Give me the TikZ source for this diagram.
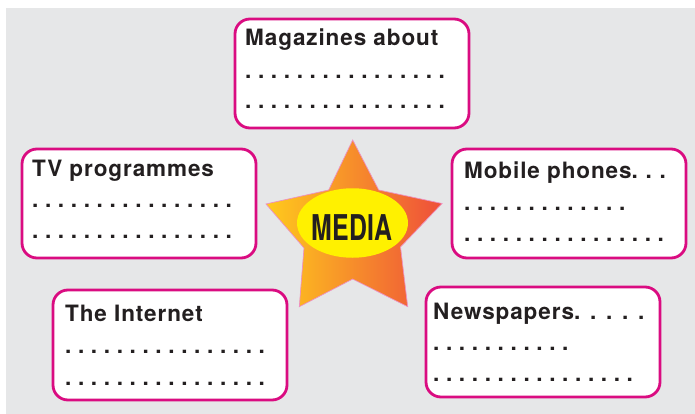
\documentclass[tikz,border=0pt]{standalone}
\usepackage{fontspec}
\usetikzlibrary{shapes.geometric}
\setmainfont{TeX Gyre Heros}[LetterSpace=4]
\newfontfamily\mediafont{TeX Gyre Heros}
\definecolor{bg}{HTML}{E6E7E8}
\definecolor{mag}{HTML}{DA0C81}
\definecolor{starL}{HTML}{FFCB1C}
\definecolor{starR}{HTML}{EE4E3A}
\definecolor{starEdge}{HTML}{EE90C0}
\definecolor{ell}{HTML}{FFF100}
\definecolor{txt}{HTML}{231F20}
\newcommand\dd{\makebox[12.9pt][l]{.}}
\newcommand\dotsrow[1]{\foreach \k in {1,...,#1}{\dd}}
\tikzset{
  box/.style={draw=mag, fill=white, line width=2.8pt, rounded corners=15pt,
    minimum width=234pt, minimum height=109pt, inner sep=0pt},
  lbl/.style={anchor=base west, inner sep=0pt, text=txt, font=\fontsize{22.5}{26}\selectfont\bfseries},
}
\begin{document}
\begin{tikzpicture}[x=1pt,y=-1pt]
\useasboundingbox (0,0) rectangle (695,414);
\fill[bg] (6,8) rectangle (695,414);
% boxes
\node[box] (bmag) at (352,73.5) {};
\node[box] (btv) at (139,203.5) {};
\node[box] (bmob) at (569,203.5) {};
\node[box, minimum height=110pt] (bint) at (170,345) {};
\node[box, minimum height=110pt] (bnew) at (543,342) {};
% texts
\node[lbl] (tmag) at (245,46) {Magazines about};
\node[lbl] (dmag1) at (245,79) {\dotsrow{16}};
\node[lbl] (dmag2) at (245,109) {\dotsrow{16}};
\node[lbl] (ttv) at (32,176) {TV programmes};
\node[lbl] (dtv1) at (32,207.5) {\dotsrow{16}};
\node[lbl] (dtv2) at (32,238) {\dotsrow{16}};
\node[lbl] (tmob) at (464,178.5) {Mobile phones\makebox[14pt][l]{.}\makebox[14pt][l]{.}.};
\node[lbl] (dmob1) at (464,210.5) {\dotsrow{13}};
\node[lbl] (dmob2) at (464,241.5) {\dotsrow{16}};
\node[lbl] (tint) at (65,321) {The Internet};
\node[lbl] (dint1) at (65,353) {\dotsrow{16}};
\node[lbl] (dint2) at (65,385.5) {\dotsrow{16}};
\node[lbl] (tnew) at (433,319.5) {Newspapers\makebox[16pt][l]{.}\makebox[16pt][l]{.}\makebox[16pt][l]{.}\makebox[16pt][l]{.}.};
\node[lbl] (dnew1) at (433,350.5) {\dotsrow{11}};
\node[lbl] (dnew2) at (433,381.5) {\dotsrow{16}};
% star
\shadedraw[left color=starL, right color=starR, draw=starEdge, line width=0.7pt]
  (352.7,140) -- (378.7,190) -- (442,203.5) -- (400.5,247) -- (407.7,306.7)
  -- (352.7,279) -- (299.3,306.7) -- (304,248) -- (266,204) -- (328.7,190) -- cycle;
\node[ellipse, fill=ell, minimum width=111pt, minimum height=69.5pt, inner sep=0pt] (ell) at (352.5,223) {};
\node[anchor=base, inner sep=0pt, text=txt] (media) at (352,240.5)
  {\mediafont\fontsize{35.5}{36}\selectfont\bfseries\scalebox{0.7}[1]{MEDIA}};
\end{tikzpicture}
\end{document}
